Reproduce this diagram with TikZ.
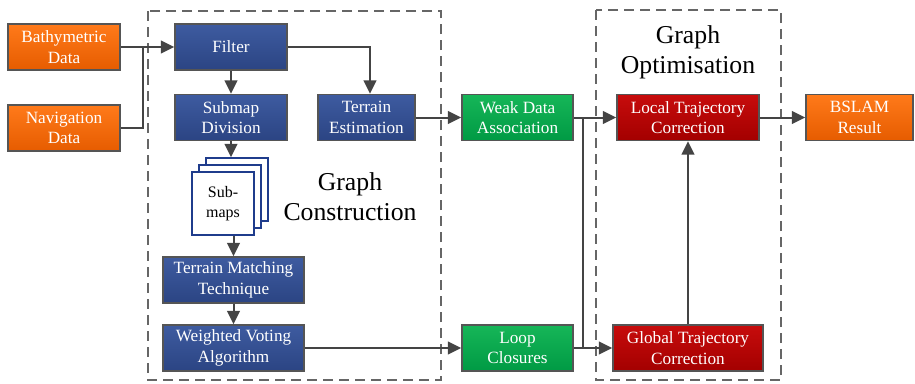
\documentclass[tikz,border=0pt]{standalone}
\usepackage{fontspec}
\setmainfont{Liberation Serif}
\usetikzlibrary{arrows.meta,calc}

\definecolor{orgtop}{HTML}{FF7A1A}
\definecolor{orgbot}{HTML}{E65C00}
\definecolor{blutop}{HTML}{3E5BA0}
\definecolor{blubot}{HTML}{2B4483}
\definecolor{grntop}{HTML}{16B658}
\definecolor{grnbot}{HTML}{009A44}
\definecolor{redtop}{HTML}{C70C0C}
\definecolor{redbot}{HTML}{A30000}
\definecolor{edgegray}{HTML}{555555}
\definecolor{linegray}{HTML}{444444}
\definecolor{sheetblue}{HTML}{1F3C8C}

\tikzset{
  blk/.style={draw=edgegray, line width=1.1pt, text=white, align=center,
    font=\fontsize{12.9}{15.5}\selectfont, inner sep=0pt,
    minimum height=34.5pt, shading=axis},
  orangebox/.style={blk, top color=orgtop, bottom color=orgbot},
  bluebox/.style={blk, top color=blutop, bottom color=blubot},
  greenbox/.style={blk, top color=grntop, bottom color=grnbot},
  redbox/.style={blk, top color=redtop, bottom color=redbot},
  sheet/.style={draw=sheetblue, line width=1.1pt, fill=white, inner sep=0pt,
    minimum width=46.5pt, minimum height=47.25pt, align=center,
    font=\fontsize{12}{15.5}\selectfont},
  link/.style={draw=linegray, line width=1.5pt},
  arr/.style={link, -{Triangle[length=10pt,width=9.5pt]}},
  group/.style={draw=gray!80!black, line width=1.1pt, dash pattern=on 7.5pt off 4.5pt},
  grouptitle/.style={align=center, font=\fontsize{19.3}{22.5}\selectfont, text=black}
}

\begin{document}
\begin{tikzpicture}[x=0.75pt, y=-0.75pt]
\useasboundingbox (0,0) rectangle (915,383);

% dashed group frames
\draw[group] (148,11) rectangle (441,380);
\draw[group] (596,10) rectangle (781,380);
\node[grouptitle] (gctitle) at (350,197) {Graph\\Construction};
\node[grouptitle] (gotitle) at (688,52.5) {Graph\\Optimisation};

% inputs
\node[orangebox, minimum width=84pt] (bath) at (64,47) {Bathymetric\\Data};
\node[orangebox, minimum width=84pt] (nav) at (64,128) {Navigation\\Data};

% graph construction blocks
\node[bluebox, minimum width=84pt] (filter) at (231,47) {Filter};
\node[bluebox, minimum width=84pt] (submap) at (231,117.5) {Submap\\Division};
\node[bluebox, minimum width=72.75pt] (terrest) at (366.5,117.5) {Terrain\\Estimation};
\node[bluebox, minimum width=105.75pt] (tmt) at (233.5,280) {Terrain Matching\\Technique};
\node[bluebox, minimum width=105.75pt] (wva) at (233.5,348) {Weighted Voting\\Algorithm};

% stack of submaps
\node[sheet] (sheetc) at (237,189.5) {};
\node[sheet] (sheetb) at (230,196.5) {};
\node[sheet] (sheeta) at (223,203.5) {Sub-\\maps};

% data association
\node[greenbox, minimum width=83.25pt] (weak) at (517.5,117.5) {Weak Data\\Association};
\node[greenbox, minimum width=83.25pt] (loop) at (517.5,348) {Loop\\Closures};

% optimisation
\node[redbox, minimum width=106.5pt] (local) at (688,117.5) {Local Trajectory\\Correction};
\node[redbox, minimum width=112.5pt] (global) at (688,348) {Global Trajectory\\Correction};
\node[orangebox, minimum width=80.25pt] (result) at (859.5,117.5) {BSLAM\\Result};

% connectors
\coordinate (navjoin) at (143,47);
\draw[arr] (bath.east) -- (filter.west);
\draw[link] (nav.east) -| (navjoin);
\draw[arr] (filter.south) -- (submap.north);
\draw[arr] (filter.east) -| ($(terrest.north)+(3.5,0)$);
\draw[arr] (submap.south) -- (submap.south |- sheetc.north);
\draw[arr] (tmt.north |- sheeta.south) -- (tmt.north);
\draw[arr] (tmt.south) -- (wva.north);
\draw[arr] (terrest.east) -- (weak.west);
\draw[arr] (wva.east) -- (loop.west);
\draw[arr] (weak.east) -- (local.west);
\draw[arr] (loop.east) -- (global.west);
\coordinate (vjoin) at (583,117.5);
\draw[link] (vjoin) -- (vjoin |- loop.east);
\draw[arr] (global.north) -- (local.south);
\draw[arr] (local.east) -- (result.west);
\end{tikzpicture}
\end{document}
